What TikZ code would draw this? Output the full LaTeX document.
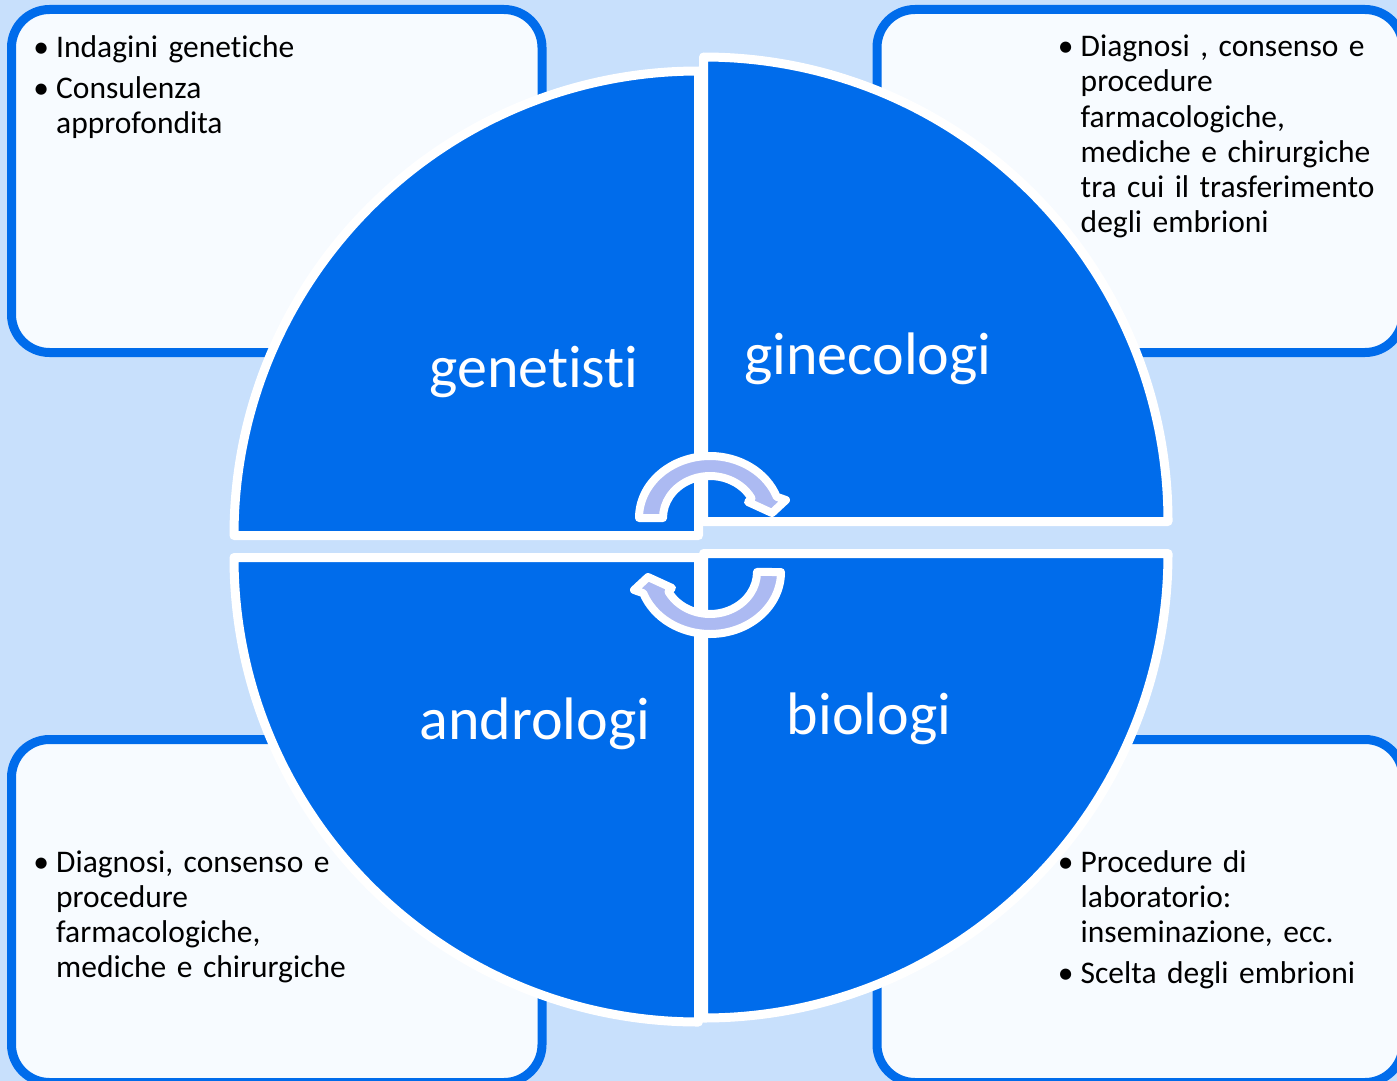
\documentclass[tikz,border=0pt]{standalone}
\usepackage{fontspec}
\setmainfont{Carlito}[Ligatures=NoCommon]
\usepackage{xcolor}
\definecolor{sfondo}{RGB}{200,224,252}
\definecolor{blu}{RGB}{0,108,235}
\definecolor{carta}{RGB}{247,251,255}
\definecolor{lilla}{RGB}{172,186,242}
\newenvironment{punti}{\begin{list}{\textbullet}{\setlength{\leftmargin}{0pt}\setlength{\labelwidth}{0pt}\setlength{\labelsep}{15pt}\setlength{\itemsep}{5.6pt}\setlength{\parsep}{0pt}\setlength{\topsep}{0pt}\setlength{\partopsep}{0pt}\renewcommand{\makelabel}[1]{\makebox[0pt]{##1}}}}{\end{list}}
\tikzset{
  riquadro/.style={draw=blu,fill=carta,line width=9pt,rounded corners=38pt},
  spicchio/.style={draw=white,fill=blu,line width=9pt,line join=round},
  freccia/.style={draw=white,fill=lilla,line width=8pt,line join=round},
  nome/.style={anchor=base,text=white,inner sep=0pt,font=\fontsize{60}{72}\selectfont},
  voce/.style={anchor=base west,inner sep=0pt,text width=340pt,align=left,font=\fontsize{31.5}{35.2}\selectfont}
}
\begin{document}
\begin{tikzpicture}[x=1pt,y=-1pt]
\useasboundingbox (0,0) rectangle (1397,1081);
\fill[sfondo] (0,0) rectangle (1397,1081);
\draw[riquadro] (11.5,9.5) rectangle (542,352.5);
\draw[riquadro] (877,9.5) rectangle (1403,352.5);
\draw[riquadro] (11.5,739.5) rectangle (542,1082.5);
\draw[riquadro] (877,739.5) rectangle (1403,1082.5);
\node[voce] (gent) at (56,22.5) {\begin{punti}\item Indagini genetiche\item Consulenza\\approfondita\end{punti}};
\node[voce] (gint) at (1080.5,21.5) {\begin{punti}\item Diagnosi , consenso e\\procedure\\farmacologiche,\\mediche e chirurgiche\\tra cui il trasferimento\\degli embrioni\end{punti}};
\node[voce] (andt) at (56,837) {\begin{punti}\item Diagnosi, consenso e\\procedure\\farmacologiche,\\mediche e chirurgiche\end{punti}};
\node[voce] (biot) at (1080.5,837) {\begin{punti}\item Procedure di\\laboratorio:\\inseminazione, ecc.\item Scelta degli embrioni\end{punti}};
\draw[spicchio] (698.5,535.5) -- (234,535.5) arc (180:270:464.5) -- cycle;
\draw[spicchio] (703.5,521.5) -- (703.5,57) arc (270:360:464.5) -- cycle;
\draw[spicchio] (703.5,553.5) -- (1168,553.5) arc (0:90:464.5) -- cycle;
\draw[spicchio] (698.5,557.5) -- (698.5,1022) arc (90:180:464.5) -- cycle;
\draw[freccia] (639,518) arc[start angle=180,end angle=340,x radius=71,y radius=62] -- (786,500) -- (772,513) -- (748,502) -- (751.5,498.3) arc[start angle=332,end angle=180,x radius=47,y radius=42] -- cycle;
\draw[freccia] (781,572) arc[start angle=0,end angle=160,x radius=71,y radius=62] -- (634,590) -- (648,577) -- (672,588) -- (668.5,591.7) arc[start angle=152,end angle=0,x radius=47,y radius=42] -- cycle;
\node[nome] (gen) at (534,387) {genetisti};
\node[nome] (gin) at (868,374) {ginecologi};
\node[nome] (and) at (535,739) {andrologi};
\node[nome] (bio) at (869,734) {biologi};
\end{tikzpicture}
\end{document}
